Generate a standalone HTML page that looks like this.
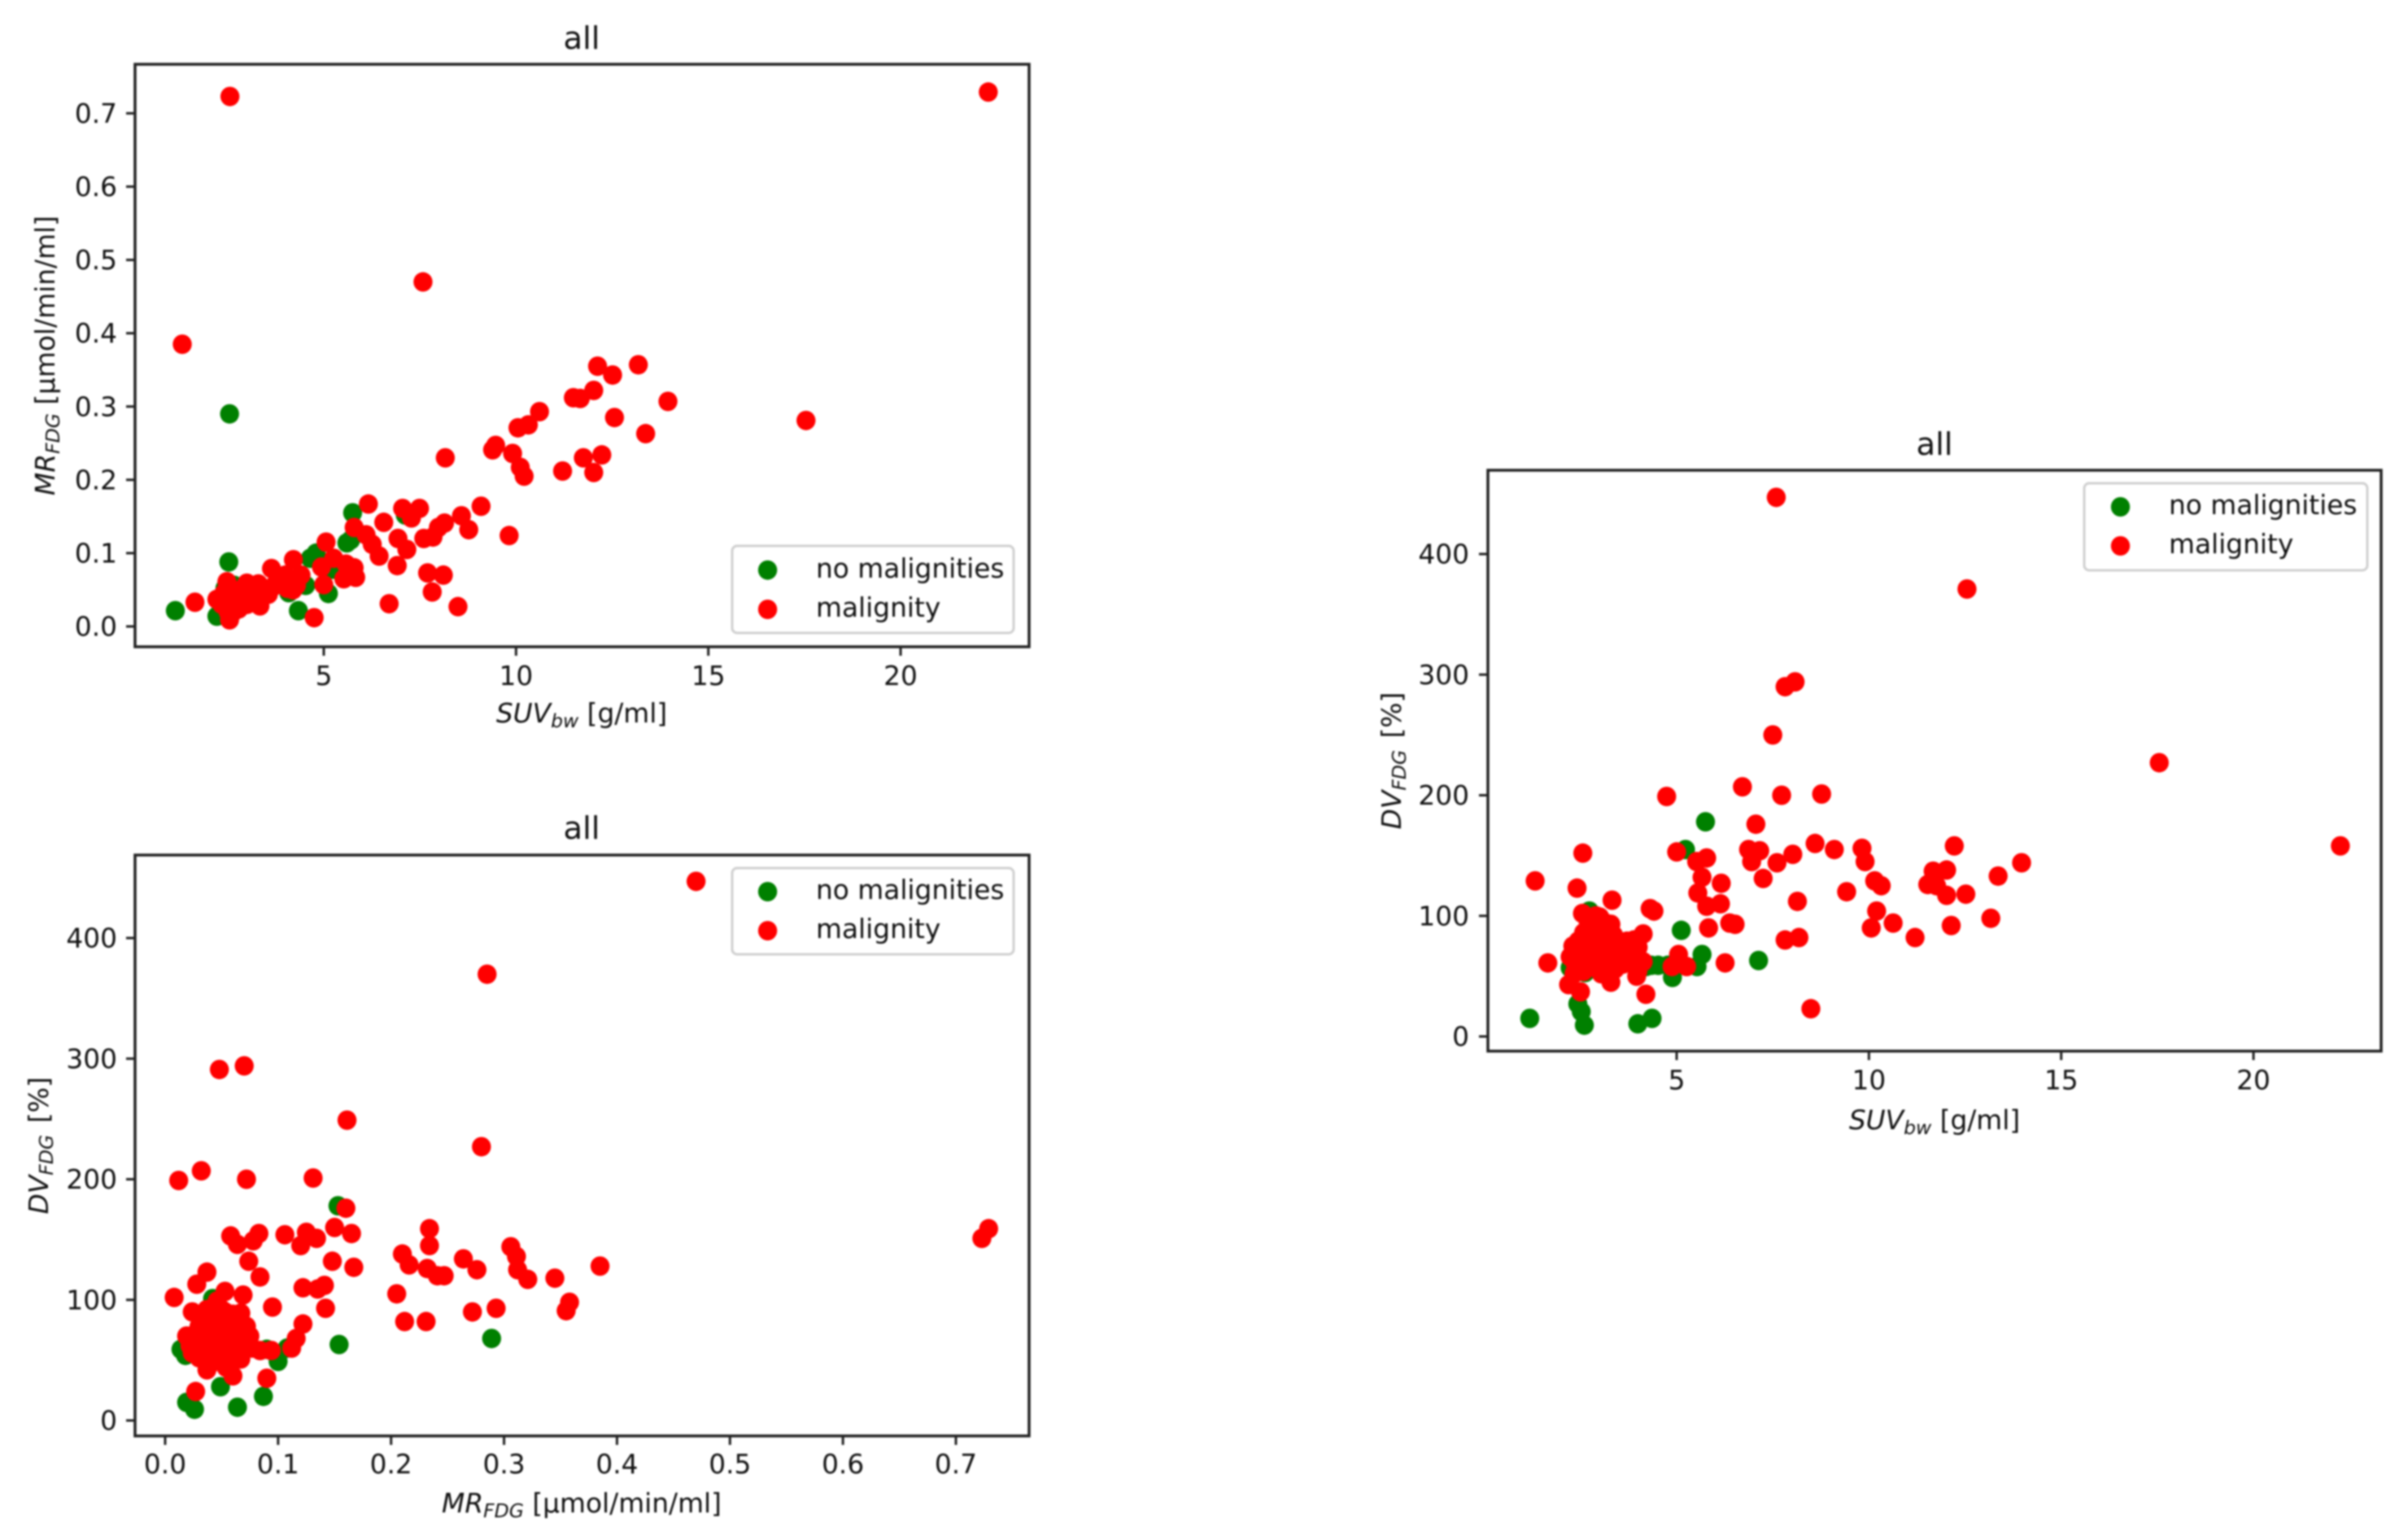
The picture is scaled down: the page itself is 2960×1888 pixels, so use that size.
<!DOCTYPE html>
<html>
<head>
<meta charset="utf-8">
<title>FDG scatter plots</title>
<style>
html,body{margin:0;padding:0;background:#fff;}
svg{display:block;filter:blur(1.1px);}
text{font-family:"DejaVu Sans","Liberation Sans",sans-serif;font-size:32.8px;fill:#111;}
.title{font-size:38.5px;text-anchor:middle;}
.lab{text-anchor:middle;}
.sub{font-size:23.5px;font-style:italic;}
.it{font-style:italic;}
.frame{fill:#fff;fill-opacity:.8;stroke:#d0d0d0;stroke-width:3;}
.spine{fill:none;stroke:#222;stroke-width:3.5;}
</style>
</head>
<body>
<svg id="fig" xmlns="http://www.w3.org/2000/svg" width="2960" height="1888" viewBox="0 0 2960 1888">
  <rect x="0" y="0" width="2960" height="1888" fill="#fff"/>

  <g id="chart1">
    <g class="marks"></g>
    <rect class="spine" x="166" y="79" width="1099" height="716"/>
    <g class="ticks"></g>
    <text class="title" x="715" y="60">all</text>
    <text class="lab" x="715" y="888" xml:space="preserve"><tspan class="it">SUV</tspan><tspan class="sub" dy="6">bw</tspan><tspan dy="-6"> [g/ml]</tspan></text>
    <text class="lab" transform="translate(67,437) rotate(-90)" xml:space="preserve"><tspan class="it">MR</tspan><tspan class="sub" dy="6">FDG</tspan><tspan dy="-6"> [µmol/min/ml]</tspan></text>
    <g>
      <rect class="frame" x="900" y="671" width="346" height="107" rx="6"/>
      <ellipse cx="943.6" cy="700.7" rx="11.7" ry="12" fill="#008000"/>
      <text x="1003" y="710">no malignities</text>
      <ellipse cx="943.6" cy="749" rx="11.7" ry="12" fill="#ff0000"/>
      <text x="1003" y="758">malignity</text>
    </g>
  </g>

  <g id="chart2">
    <g class="marks"></g>
    <rect class="spine" x="166" y="1051" width="1099" height="714"/>
    <g class="ticks"></g>
    <text class="title" x="715" y="1031">all</text>
    <text class="lab" x="715" y="1859" xml:space="preserve"><tspan class="it">MR</tspan><tspan class="sub" dy="6">FDG</tspan><tspan dy="-6"> [µmol/min/ml]</tspan></text>
    <text class="lab" transform="translate(59,1408) rotate(-90)" xml:space="preserve"><tspan class="it">DV</tspan><tspan class="sub" dy="6">FDG</tspan><tspan dy="-6" dx="4"> [%]</tspan></text>
    <g>
      <rect class="frame" x="900" y="1067" width="346" height="106" rx="6"/>
      <ellipse cx="943.6" cy="1096" rx="11.7" ry="12" fill="#008000"/>
      <text x="1003" y="1105">no malignities</text>
      <ellipse cx="943.6" cy="1144" rx="11.7" ry="12" fill="#ff0000"/>
      <text x="1003" y="1153">malignity</text>
    </g>
  </g>

  <g id="chart3">
    <g class="marks"></g>
    <rect class="spine" x="1829" y="578" width="1098" height="714"/>
    <g class="ticks"></g>
    <text class="title" x="2378" y="559">all</text>
    <text class="lab" x="2378" y="1388" xml:space="preserve"><tspan class="it">SUV</tspan><tspan class="sub" dy="6">bw</tspan><tspan dy="-6"> [g/ml]</tspan></text>
    <text class="lab" transform="translate(1722,935) rotate(-90)" xml:space="preserve"><tspan class="it">DV</tspan><tspan class="sub" dy="6">FDG</tspan><tspan dy="-6" dx="4"> [%]</tspan></text>
    <g>
      <rect class="frame" x="2562" y="594" width="348" height="107" rx="6"/>
      <ellipse cx="2606.5" cy="623" rx="11.7" ry="12" fill="#008000"/>
      <text x="2666" y="632">no malignities</text>
      <ellipse cx="2606.5" cy="671" rx="11.7" ry="12" fill="#ff0000"/>
      <text x="2666" y="680">malignity</text>
    </g>
  </g>
</svg>
<script>
// Chart 1: MR vs SUV
const chart1GreenSuv = [1.14,2.53,2.22,4.34,5.12,5.75,5.6,5.7,4.65,4.8,5.24,4.53,4.09,2.43,2.67,7.12,2.55];
const chart1GreenMr = [.0215,.088,.014,.0215,.045,.155,.114,.118,.093,.100,.078,.056,.046,.052,.056,.152,.29];
const chart1RedSuv = [2.56,22.28,7.58,1.32,12.12,13.18,12.51,12.02,11.49,11.67,13.95,10.61,10.05,10.32,12.56,17.54,13.37,9.39,9.47,8.16,9.91,11.75,12.23,11.21,12.02,10.11,10.21,6.16,9.09,7.05,7.49,7.28,6.56,8.58,8.77,8.14,7.98,7.84,7.6,9.82,5.79,6.1,6.26,6.44,6.93,7.16,6.91,7.7,8.11,7.82,6.7,8.49,1.65,2.55,2.48,2.22,2.43,2.59,2.51,2.79,3.0,2.95,3.24,3.34,3.32,3.11,2.75,3.64,3.8,4.05,4.21,4.41,4.29,4.17,3.88,4.75,5.06,5,4.94,5.26,5.52,5.83,5.79,5.58,3.56,3.07,2.4,2.65,2.85,2.65,3.0,3.15,3.45,3.7,3.95,4.2,4.3,2.35,2.9,3.3,4.0];
const chart1RedMr = [.723,.729,.470,.385,.355,.357,.343,.322,.312,.311,.307,.293,.271,.275,.285,.281,.263,.241,.247,.230,.236,.230,.234,.212,.210,.217,.205,.167,.164,.161,.161,.148,.142,.151,.132,.141,.135,.122,.120,.124,.135,.125,.112,.096,.120,.105,.083,.073,.070,.047,.031,.027,.033,.009,.061,.037,.037,.030,.020,.024,.059,.044,.052,.028,.037,.033,.041,.079,.067,.052,.091,.070,.056,.059,.063,.012,.115,.057,.081,.093,.065,.067,.080,.085,.044,.043,.045,.045,.035,.020,.030,.045,.050,.055,.060,.050,.065,.030,.052,.058,.070];
const chart1XTicks = [5,10,15,20];
const chart1YTicks = [0,0.1,0.2,0.3,0.4,0.5,0.6,0.7];

// Chart 2: DV vs MR
const chart2GreenMr = [.289,.154,.049,.087,.064,.026,.019,.1,.09,.014,.018,.108,.042,.153];
const chart2GreenDv = [68,63,28,20,11,9.3,15,49,59,59,54,60,101,178];
const chart2RedMr = [.008,.037,.028,.058,.064,.078,.083,.074,.084,.106,.125,.12,.134,.15,.165,.16,.148,.167,.122,.135,.141,.142,.095,.122,.116,.112,.094,.09,.027,.06,.037,.053,.069,.024,.031,.043,.067,.058,.019,.027,.036,.046,.058,.07,.075,.034,.046,.058,.067,.077,.084,.024,.034,.046,.058,.067,.053,.041,.053,.046,.063,.06,.205,.212,.231,.21,.216,.234,.234,.232,.241,.247,.264,.276,.272,.293,.306,.311,.312,.321,.345,.355,.358,.385,.723,.729,.47,.285,.28,.048,.07,.161,.032,.012,.072,.131,.03,.04,.05,.055,.062,.035,.042,.05,.062,.028,.022,.038,.048,.056,.066,.072,.05,.037,.045,.06,.065,.072,.054,.04,.03];
const chart2RedDv = [102,123,113,153,146,149,155,132,119,154,156,145,151,160,155,176,132,127,110,109,112,93,94,80,68,60,58,35,24,37,42,107,104,90,85,90,89,85,70,72,76,72,74,70,70,65,63,63,60,60,58,56,56,51,51,51,47,81,90,99,79,88,105,82,82,138,129,159,145,126,120,120,134,125,90,93,144,136,125,117,118,91,98,128,151,159,447,370,227,291,294,249,207,199,200,201,78,74,80,70,75,60,55,58,56,64,62,68,66,62,66,63,92,92,84,84,80,78,44,47,52];
const chart2XTicks = [0,0.1,0.2,0.3,0.4,0.5,0.6,0.7];
const chart2YTicks = [0,100,200,300,400];

// Chart 3: DV vs SUV
const chart3GreenSuv = [1.18,2.43,2.52,2.6,3.99,4.36,5.12,5.75,5.23,5.66,7.13,4.89,5.53,4.52,4.34,4.2,2.23,2.62,2.73,4.77];
const chart3GreenDv = [15,27,20.6,9.4,10.5,15,88,178,155,68,63,49,58,59,59,58,57,53,104,59];
const chart3RedSuv = [7.59,12.55,8.08,7.82,7.5,6.71,4.74,7.73,8.77,17.55,22.26,7.06,12.22,8.6,9.1,9.82,9.9,13.97,13.36,11.67,12.02,11.53,11.76,12.02,12.52,10.15,10.32,9.42,10.2,10.63,10.06,11.2,12.14,13.17,8.02,7.61,7.25,6.87,7.16,6.95,8.14,7.82,8.18,8.49,6.52,6.38,6.26,6.16,6.14,5.78,5.83,5.55,5.66,5.78,5.52,5,2.56,1.32,2.41,3.32,4.31,4.41,1.65,5.05,4.88,5.26,2.55,3,3.29,2.79,2.58,3.07,3.36,2.44,2.86,3.22,2.3,2.65,3,3.43,3.71,4.13,3.89,3.92,4.13,3.99,3.96,3.29,3.04,3.71,3.5,2.23,2.37,2.33,2.19,2.5,4.2,2.44,2.79,2.58,3.15,2.7,2.9,3.1,3.2,2.6,2.5,2.8,3.0,3.3,3.5,3.6,3.8,4.0,2.35,2.5,2.8,3.1,3.3,3.6,3.85,2.9,2.45,2.95,3.4];
const chart3RedDv = [447,371,294,290,250,207,199,200,201,227,158,176,158,160,155,156,145,144,133,137,138,126,125,117,118,129,125,120,104,94,90,82,92,98,151,144,131,155,154,145,112,80,82,23,93,94,61,127,110,108,90,119,132,148,145,153,152,129,123,113,106,104,61,68,58,58,102,99,93,90,86,86,84,79,79,77,75,72,70,72,79,85,80,68,62,54,50,45,52,68,66,66,59,52,43,37,35,68,66,54,61,95,100,95,88,80,72,84,80,70,76,72,72,74,70,62,72,62,62,60,62,60,55,56,56];
const chart3XTicks = [5,10,15,20];
const chart3YTicks = [0,100,200,300,400];

const SVG_NS = 'http://www.w3.org/2000/svg';

function linearScale(anchorValue, anchorPixel, pixelsPerUnit) {
  return function (v) { return anchorPixel + (v - anchorValue) * pixelsPerUnit; };
}

function drawPoints(root, xs, ys, sx, sy, color, name) {
  const g = root.querySelector('.marks');
  for (let i = 0; i < xs.length; i++) {
    const el = document.createElementNS(SVG_NS, 'ellipse');
    
    
    el.setAttribute('cx', sx(xs[i]));
    el.setAttribute('cy', sy(ys[i]));
    el.setAttribute('rx', 11.7);
    el.setAttribute('ry', 12);
    el.setAttribute('fill', color);
    g.appendChild(el);
  }
}

function drawXTicks(root, ticks, decimals, sx, bottom, labelY) {
  const g = root.querySelector('.ticks');
  ticks.forEach(function (t) {
    const line = document.createElementNS(SVG_NS, 'line');
    
    
    line.setAttribute('x1', sx(t));
    line.setAttribute('x2', sx(t));
    line.setAttribute('y1', bottom);
    line.setAttribute('y2', bottom + 11);
    line.setAttribute('stroke', '#222');
    line.setAttribute('stroke-width', 3);
    g.appendChild(line);
    const txt = document.createElementNS(SVG_NS, 'text');
    
    
    txt.setAttribute('x', sx(t));
    txt.setAttribute('y', labelY);
    txt.setAttribute('text-anchor', 'middle');
    txt.textContent = t.toFixed(decimals);
    g.appendChild(txt);
  });
}

function drawYTicks(root, ticks, decimals, sy, left, labelX) {
  const g = root.querySelector('.ticks');
  ticks.forEach(function (t) {
    const line = document.createElementNS(SVG_NS, 'line');
    
    
    line.setAttribute('x1', left - 11);
    line.setAttribute('x2', left);
    line.setAttribute('y1', sy(t));
    line.setAttribute('y2', sy(t));
    line.setAttribute('stroke', '#222');
    line.setAttribute('stroke-width', 3);
    g.appendChild(line);
    const txt = document.createElementNS(SVG_NS, 'text');
    
    
    txt.setAttribute('x', labelX);
    txt.setAttribute('y', sy(t) + 11.6);
    txt.setAttribute('text-anchor', 'end');
    txt.textContent = t.toFixed(decimals);
    g.appendChild(txt);
  });
}

(function () {
  const c1 = document.getElementById('chart1');
  const c1x = linearScale(5, 398, 47.27);
  const c1y = linearScale(0, 770, -901);
  drawPoints(c1, chart1GreenSuv, chart1GreenMr, c1x, c1y, '#008000', 'no-malignity-point');
  drawPoints(c1, chart1RedSuv, chart1RedMr, c1x, c1y, '#ff0000', 'malignity-point');
  drawXTicks(c1, chart1XTicks, 0, c1x, 795, 842);
  drawYTicks(c1, chart1YTicks, 1, c1y, 166, 144);

  const c2 = document.getElementById('chart2');
  const c2x = linearScale(0, 203, 1388.6);
  const c2y = linearScale(0, 1746, -1.4825);
  drawPoints(c2, chart2GreenMr, chart2GreenDv, c2x, c2y, '#008000', 'no-malignity-point');
  drawPoints(c2, chart2RedMr, chart2RedDv, c2x, c2y, '#ff0000', 'malignity-point');
  drawXTicks(c2, chart2XTicks, 1, c2x, 1765, 1811);
  drawYTicks(c2, chart2YTicks, 0, c2y, 166, 144);

  const c3 = document.getElementById('chart3');
  const c3x = linearScale(5, 2061, 47.27);
  const c3y = linearScale(0, 1274, -1.4825);
  drawPoints(c3, chart3GreenSuv, chart3GreenDv, c3x, c3y, '#008000', 'no-malignity-point');
  drawPoints(c3, chart3RedSuv, chart3RedDv, c3x, c3y, '#ff0000', 'malignity-point');
  drawXTicks(c3, chart3XTicks, 0, c3x, 1292, 1339);
  drawYTicks(c3, chart3YTicks, 0, c3y, 1829, 1806);
})();
</script>
</body>
</html>
